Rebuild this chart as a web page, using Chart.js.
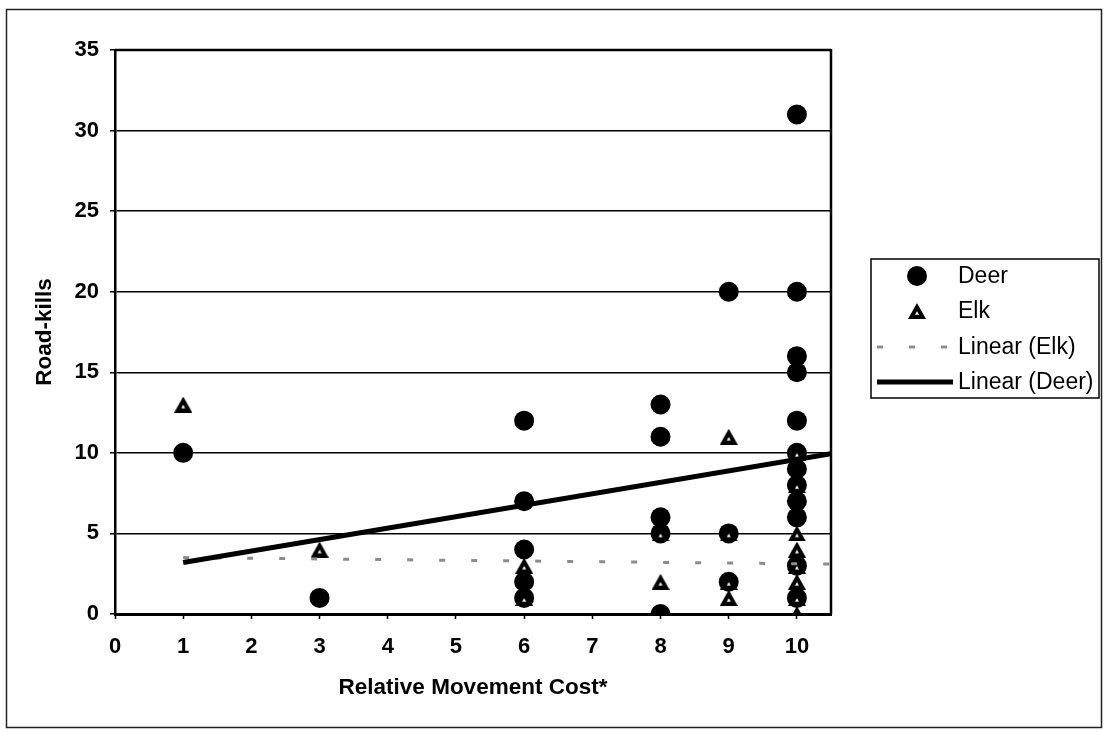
<!DOCTYPE html>
<html><head><meta charset="utf-8">
<script src="https://cdn.jsdelivr.net/npm/chart.js@4.4.0/dist/chart.umd.min.js"></script>
<style>html,body{margin:0;padding:0;background:#fff;}#wrap{width:1104px;height:732px;position:relative;}</style>
</head><body><div id="wrap"><canvas id="c" width="1104" height="732"></canvas></div>
<script>
// ---- data ----
const seriesNames = ['Deer', 'Elk', 'Linear (Elk)', 'Linear (Deer)'];
const xTitle = 'Relative Movement Cost*';
const yTitle = 'Road-kills';
const deerX = [1, 3, 6, 6, 6, 6, 6, 8, 8, 8, 8, 8, 9, 9, 9, 10, 10, 10, 10, 10, 10, 10, 10, 10, 10, 10, 10];
const deerY = [10, 1, 12, 7, 4, 2, 1, 13, 11, 6, 5, 0, 20, 5, 2, 31, 20, 16, 15, 12, 10, 9, 8, 7, 6, 3, 1];
const elkX = [1, 3, 6, 6, 8, 8, 8, 9, 9, 9, 9, 10, 10, 10, 10, 10, 10, 10, 10];
const elkY = [13, 4, 3, 1, 5, 2, 0, 11, 5, 2, 1, 10, 8, 5, 4, 3, 2, 1, 0];
const elkTrendX = [1, 10.5];
const elkTrendY = [3.5, 3.1];
const deerTrendX = [1, 10.5];
const deerTrendY = [3.2, 9.95];
const xTickValues = [0, 1, 2, 3, 4, 5, 6, 7, 8, 9, 10];

const pts = (xs, ys) => xs.map((x, i) => ({x, y: ys[i]}));
const FONT = "'Liberation Sans', Arial, sans-serif";

// Elk marker: black triangle with a small white centre (as in the scanned reference)
function makeElkMarker() {
  const c = document.createElement('canvas');
  c.width = 18; c.height = 16;
  const g = c.getContext('2d');
  g.fillStyle = '#000';
  g.beginPath();
  g.moveTo(9, 0); g.lineTo(18, 16); g.lineTo(0, 16); g.closePath();
  g.fill();
  g.fillStyle = '#fff';
  g.beginPath();
  g.moveTo(9, 8.2); g.lineTo(11, 11.8); g.lineTo(7, 11.8); g.closePath();
  g.fill();
  return c;
}
const elkMarker = makeElkMarker();

const datasets = [
  {label: seriesNames[0], data: pts(deerX, deerY), pointStyle: 'circle', pointRadius: 10,
   backgroundColor: '#000', borderColor: '#000', borderWidth: 0, showLine: false, order: 4},
  {label: seriesNames[1], data: pts(elkX, elkY), pointStyle: elkMarker, pointRadius: 9,
   backgroundColor: '#000', borderColor: '#000', borderWidth: 0, showLine: false, order: 3},
  {label: seriesNames[2], data: pts(elkTrendX, elkTrendY), showLine: true, pointRadius: 0,
   borderColor: '#8c8c8c', borderWidth: 3, borderDash: [6, 26], fill: false, order: 2},
  {label: seriesNames[3], data: pts(deerTrendX, deerTrendY), showLine: true, pointRadius: 0,
   borderColor: '#000', borderWidth: 5, fill: false, order: 1}
];

const framePlugin = {
  id: 'frame',
  beforeDraw(chart) {
    const ctx = chart.ctx;
    ctx.save();
    ctx.fillStyle = '#fff';
    ctx.fillRect(0, 0, chart.width, chart.height);
    ctx.strokeStyle = '#222';
    ctx.lineWidth = 1.5;
    ctx.strokeRect(6.5, 9.5, 1095, 718);
    ctx.restore();
  },
  beforeDatasetsDraw(chart) {
    const {ctx, chartArea: a} = chart;
    ctx.save();
    ctx.strokeStyle = '#000';
    ctx.lineWidth = 2.5;
    ctx.beginPath();
    ctx.moveTo(a.right, a.top - 1);
    ctx.lineTo(a.right, a.bottom);
    ctx.moveTo(a.left, a.top);
    ctx.lineTo(a.right, a.top);
    ctx.stroke();
    ctx.restore();
  },
  afterDraw(chart) {
    const ctx = chart.ctx;
    const box = {l: 871, t: 259, r: 1099, b: 398};
    ctx.save();
    ctx.strokeStyle = '#000';
    ctx.lineWidth = 1.5;
    ctx.strokeRect(box.l, box.t, box.r - box.l, box.b - box.t);
    const rowsY = [276, 311, 347, 382];
    const mx = 917, tx = 958, lx0 = 877, lx1 = 953;
    chart.data.datasets.forEach((ds, i) => {
      const y = rowsY[i];
      if (ds.showLine) {
        ctx.save();
        ctx.strokeStyle = ds.borderColor;
        ctx.lineWidth = ds.borderWidth;
        ctx.setLineDash(ds.borderDash || []);
        ctx.beginPath();
        ctx.moveTo(lx0, y);
        ctx.lineTo(lx1, y);
        ctx.stroke();
        ctx.restore();
      } else {
        ctx.save();
        ctx.fillStyle = ds.backgroundColor;
        ctx.strokeStyle = ds.borderColor;
        ctx.lineWidth = ds.borderWidth;
        Chart.helpers.drawPoint(ctx, {pointStyle: ds.pointStyle, radius: ds.pointRadius, borderWidth: ds.borderWidth, rotation: 0}, mx, y);
        ctx.restore();
      }
      ctx.fillStyle = '#000';
      ctx.font = '23px ' + FONT;
      ctx.textBaseline = 'middle';
      ctx.textAlign = 'left';
      ctx.fillText(ds.label, tx, y + 1);
    });
    ctx.restore();
  }
};

new Chart(document.getElementById('c'), {
  type: 'scatter',
  data: {datasets},
  options: {
    responsive: false,
    animation: false,
    devicePixelRatio: 1,
    layout: {padding: {left: 0, top: 50, right: 273, bottom: 0}},
    plugins: {legend: {display: false}, tooltip: {enabled: false}},
    scales: {
      x: {
        type: 'linear', min: 0, max: 10.5,
        afterBuildTicks: s => { s.ticks = xTickValues.map(v => ({value: v})); },
        afterFit: s => { s.height = 118; },
        grid: {drawOnChartArea: false, drawTicks: true, tickLength: 5, tickColor: '#000', tickWidth: 1.5},
        border: {display: true, color: '#000', width: 3},
        ticks: {color: '#000', font: {family: FONT, size: 22, weight: 'bold'}, padding: 15, maxRotation: 0, autoSkip: false},
        title: {display: true, text: xTitle, color: '#000', font: {family: FONT, size: 22.5, weight: 'bold'}, padding: {top: 0, bottom: 31}}
      },
      y: {
        type: 'linear', min: 0, max: 35,
        afterFit: s => { s.width = 115; },
        grid: {color: '#000', lineWidth: 1.5, drawTicks: true, tickLength: 5, tickColor: '#000'},
        border: {display: true, color: '#000', width: 2.5},
        ticks: {stepSize: 5, color: '#000', font: {family: FONT, size: 22, weight: 'bold'}, padding: 11},
        title: {display: true, text: yTitle, color: '#000', font: {family: FONT, size: 22.5, weight: 'bold'}, padding: {top: 31, bottom: 0}}
      }
    }
  },
  plugins: [framePlugin]
});
</script>
</body></html>
